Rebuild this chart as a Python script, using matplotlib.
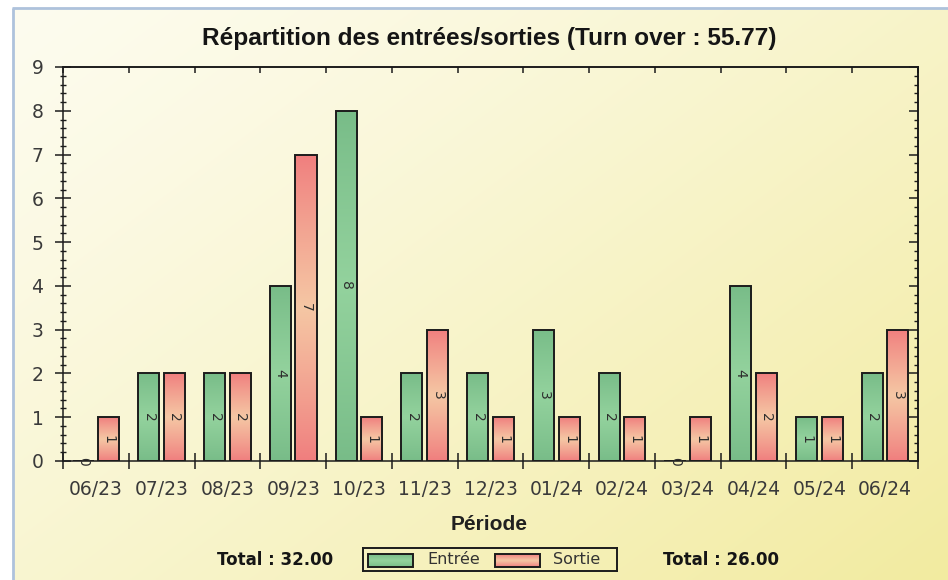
import numpy as np
import matplotlib
matplotlib.use("Agg")
import matplotlib.pyplot as plt
from matplotlib.patches import Rectangle
from matplotlib.ticker import MultipleLocator, FixedLocator, NullFormatter

# ---- data ----
periods = ["06/23", "07/23", "08/23", "09/23", "10/23", "11/23", "12/23",
           "01/24", "02/24", "03/24", "04/24", "05/24", "06/24"]
entree = [0, 2, 2, 4, 8, 2, 2, 3, 2, 0, 4, 1, 2]
sortie = [1, 2, 2, 7, 1, 3, 1, 1, 1, 1, 2, 1, 3]
title = "Répartition des entrées/sorties (Turn over : 55.77)"
xlabel = "Période"
series_names = ["Entrée", "Sortie"]
total_entree = "Total : 32.00"
total_sortie = "Total : 26.00"

W, H = 948, 580
fig = plt.figure(figsize=(W / 100, H / 100), dpi=100)

# ---- background ----
def hexrgb(h):
    h = h.lstrip('#')
    return np.array([int(h[i:i + 2], 16) / 255 for i in (0, 2, 4)])

bg = fig.add_axes([0, 0, 1, 1])
bg.set_zorder(-5)
bg.set_xlim(0, W)
bg.set_ylim(0, H)
bg.axis('off')
yy, xx = np.mgrid[0:1:200j, 0:1:300j]
t = np.clip((xx * 0.55 + yy * 0.45), 0, 1)  # top-left pale -> bottom-right yellow
c0 = hexrgb('#FDFCEF')
c1 = hexrgb('#F2EBA0')
tt = t[..., None] ** 1.2
img = c0 * (1 - tt) + c1 * tt
bg.imshow(img, extent=[13, W, 0, H - 8], origin='upper', aspect='auto',
          interpolation='bilinear', zorder=0)
bg.plot([13, 13], [0, H - 8], color='#AEC2DC', lw=2, zorder=1, solid_capstyle='butt')
bg.plot([12, W], [H - 8, H - 8], color='#AEC2DC', lw=2, zorder=1, solid_capstyle='butt')

# ---- main axes ----
ax = fig.add_axes([63 / W, 1 - 461 / H, 855 / W, 394 / H])
ax.patch.set_alpha(0)

x = np.arange(len(periods))
bw = 0.32
off = 0.195

def gradient_fill(patches, edge, mid):
    e = hexrgb(edge)
    m = hexrgb(mid)
    n = 100
    s = np.linspace(0, 1, n)
    f = (1 - np.abs(2 * s - 1)) ** 0.9
    col = e * (1 - f[:, None]) + m * f[:, None]
    grad = col[:, None, :]
    for p in patches:
        x0, y0, w, h = p.get_x(), p.get_y(), p.get_width(), p.get_height()
        if h <= 0:
            continue
        im = ax.imshow(grad, extent=[x0, x0 + w, y0, y0 + h], origin='lower',
                       aspect='auto', interpolation='bilinear', zorder=2)
        im.set_clip_path(p)

b1 = ax.bar(x - off, entree, bw, facecolor='none', edgecolor='#1c1c1c',
            linewidth=1.4, zorder=3)
b2 = ax.bar(x + off, sortie, bw, facecolor='none', edgecolor='#1c1c1c',
            linewidth=1.4, zorder=3)
gradient_fill(b1, '#78BC88', '#93D29D')
gradient_fill(b2, '#F07E7E', '#F5C7A4')

for bars, vals in ((b1, entree), (b2, sortie)):
    for p, v in zip(bars, vals):
        cx = p.get_x() + p.get_width() / 2
        ax.text(cx, v / 2, str(v), rotation=-90,
                ha='center', va='center', fontsize=10, color='#2e2e2e',
                zorder=4, family='DejaVu Sans')

ax.set_xlim(-0.5, len(periods) - 0.5)
ax.set_ylim(0, 9)

for s in ax.spines.values():
    s.set_linewidth(1.1)
    s.set_color('#1c1c1c')

# x ticks: boundaries as major, labels on centers (minor)
bounds = np.arange(-0.5, len(periods), 1.0)
ax.xaxis.set_major_locator(FixedLocator(bounds))
ax.xaxis.set_major_formatter(NullFormatter())
ax.xaxis.set_minor_locator(FixedLocator(x))
ax.set_xticks(x, periods, minor=True)
ax.tick_params(axis='x', which='major', direction='inout', length=11,
               width=1.1, color='#1c1c1c', top=False)
ax.tick_params(axis='x', which='minor', direction='inout', length=0,
               pad=14, labelsize=13.5, labelcolor='#3a3a3a', top=False)
for lab in ax.get_xticklabels(minor=True):
    lab.set_family('DejaVu Sans')

ax.yaxis.set_major_locator(MultipleLocator(1))
ax.yaxis.set_minor_locator(MultipleLocator(0.2))
ax.tick_params(axis='y', which='major', direction='inout', length=12,
               width=1.1, color='#1c1c1c', pad=8, labelsize=13.5,
               labelcolor='#3a3a3a', right=False)
ax.tick_params(axis='y', which='minor', direction='inout', length=4.5,
               width=1.0, color='#1c1c1c', right=False)

sx = ax.secondary_xaxis('top')
sx.xaxis.set_major_locator(FixedLocator(bounds))
sx.tick_params(direction='in', length=4.5, width=1.1, color='#1c1c1c',
               labeltop=False)
sx.spines['top'].set_linewidth(1.1)
sy = ax.secondary_yaxis('right')
sy.yaxis.set_major_locator(MultipleLocator(1))
sy.yaxis.set_minor_locator(MultipleLocator(0.2))
sy.tick_params(which='major', direction='in', length=6.5, width=1.1,
               color='#1c1c1c', labelright=False)
sy.tick_params(which='minor', direction='in', length=3, width=1.0,
               color='#1c1c1c')
sy.spines['right'].set_linewidth(1.1)

# ---- texts ----
fig.text(489.5 / W, 1 - 45 / H, title, ha='center', va='baseline',
         fontsize=17.6, fontweight='bold', family='Liberation Sans',
         color='#151515')
fig.text(489.5 / W, 1 - 530 / H, xlabel, ha='center', va='baseline',
         fontsize=15, fontweight='bold', family='Liberation Sans',
         color='#202020')
fig.text(275 / W, 1 - 565 / H, total_entree, ha='center', va='baseline',
         fontsize=12, fontweight='bold', family='DejaVu Sans', color='#151515')
fig.text(721 / W, 1 - 565 / H, total_sortie, ha='center', va='baseline',
         fontsize=12, fontweight='bold', family='DejaVu Sans', color='#151515')

# ---- legend box ----
lg = fig.add_axes([363 / W, 1 - 571 / H, 254 / W, 23 / H])
lg.set_xlim(0, 254)
lg.set_ylim(0, 23)
lg.patch.set_alpha(0)
lg.set_xticks([])
lg.set_yticks([])
for s in lg.spines.values():
    s.set_linewidth(1.4)
    s.set_color('#1c1c1c')

def legend_patch(x0, edge, mid):
    r = Rectangle((x0, 4), 45, 13, facecolor='none', edgecolor='#1c1c1c',
                  linewidth=1.4, zorder=3)
    lg.add_patch(r)
    e = hexrgb(edge)
    m = hexrgb(mid)
    s = np.linspace(0, 1, 30)
    f = (1 - np.abs(2 * s - 1)) ** 0.9
    col = (e * (1 - f[:, None]) + m * f[:, None])[:, None, :]
    im = lg.imshow(col, extent=[x0, x0 + 45, 4, 17], origin='lower',
                   aspect='auto', zorder=2)
    im.set_clip_path(r)

legend_patch(5, '#78BC88', '#93D29D')
legend_patch(132, '#F07E7E', '#F5C7A4')
lg.set_xlim(0, 254)
lg.set_ylim(0, 23)
lg.text(64, 11, series_names[0], ha='left', va='center', fontsize=11.5,
        color='#333333', family='DejaVu Sans')
lg.text(190, 11, series_names[1], ha='left', va='center', fontsize=11.5,
        color='#333333', family='DejaVu Sans')

fig.savefig("out.png", dpi=100)
